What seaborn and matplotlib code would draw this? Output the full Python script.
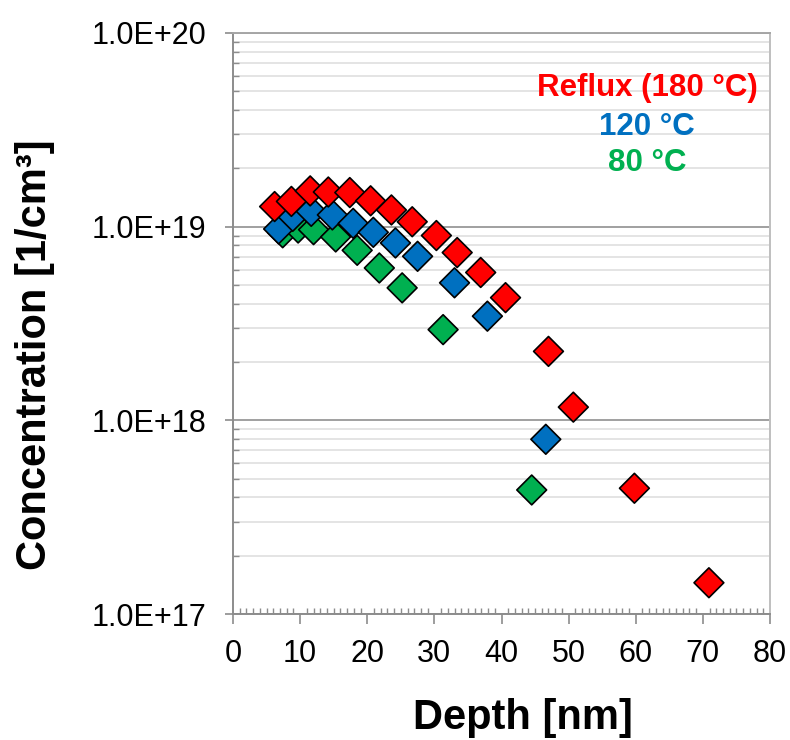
import numpy as np
import pandas as pd
import matplotlib
matplotlib.use("Agg")
import matplotlib.pyplot as plt
import matplotlib.ticker as mticker
import seaborn as sns

# ---- data ----
reflux_depth = [6.2, 8.7, 11.5, 14.2, 17.4, 20.5, 23.6, 26.7, 30.3, 33.4, 36.9, 40.6, 47.0, 50.7, 59.8, 70.9]
reflux_conc = [1.27e19, 1.35e19, 1.53e19, 1.51e19, 1.50e19, 1.36e19, 1.22e19, 1.06e19, 9.0e18, 7.35e18,
               5.8e18, 4.3e18, 2.27e18, 1.17e18, 4.46e17, 1.45e17]
t120_depth = [6.8, 8.9, 11.65, 14.8, 17.9, 20.9, 24.2, 27.5, 33.0, 37.9, 46.6]
t120_conc = [9.73e18, 1.13e19, 1.20e19, 1.15e19, 1.04e19, 9.35e18, 8.24e18, 7.03e18, 5.13e18, 3.45e18, 7.98e17]
t80_depth = [7.4, 9.7, 12.0, 15.3, 18.5, 21.8, 25.2, 31.3, 44.5]
t80_conc = [9.3e18, 9.84e18, 9.65e18, 8.85e18, 7.55e18, 6.12e18, 4.83e18, 2.94e18, 4.37e17]

series_names = ["80 °C", "120 °C", "Reflux (180 °C)"]
series_colors = ["#00B050", "#0070C0", "#FF0000"]
x_ticks = [0, 10, 20, 30, 40, 50, 60, 70, 80]
y_ticks = [1e17, 1e18, 1e19, 1e20]
y_tick_labels = ["1.0E+17", "1.0E+18", "1.0E+19", "1.0E+20"]

df = pd.DataFrame({
    "Depth": t80_depth + t120_depth + reflux_depth,
    "Conc": t80_conc + t120_conc + reflux_conc,
    "Series": [series_names[0]] * len(t80_depth) + [series_names[1]] * len(t120_depth)
              + [series_names[2]] * len(reflux_depth),
})

sns.set_theme(style="white")
plt.rcParams["font.family"] = ["Liberation Sans", "DejaVu Sans"]
plt.rcParams["text.color"] = "black"
plt.rcParams["axes.labelcolor"] = "black"

fig = plt.figure(figsize=(7.9, 7.4), dpi=100)
ax = fig.add_axes([233 / 790, 1 - 614 / 740, (770 - 233) / 790, (614 - 33) / 740])

ax.set_yscale("log")
ax.set_xlim(0, 80)
ax.set_ylim(1e17, 1e20)

# grid lines
ax.yaxis.set_minor_locator(mticker.LogLocator(base=10, subs=np.arange(2, 10)))
ax.yaxis.set_minor_formatter(mticker.NullFormatter())
ax.grid(which="minor", axis="y", color="#e2e2e2", lw=1.3, zorder=0)
ax.grid(which="major", axis="y", color="#a0a0a0", lw=1.4, zorder=0)
ax.grid(False, axis="x", which="both")
ax.set_axisbelow(True)

sns.scatterplot(data=df, x="Depth", y="Conc", hue="Series", hue_order=series_names,
                palette=series_colors, marker="D", s=230, edgecolor="black", linewidth=1.2,
                legend=False, ax=ax, zorder=3)

ax.set_xticks(x_ticks)
ax.xaxis.set_minor_locator(mticker.MultipleLocator(1))
ax.set_yticks(y_ticks)
ax.set_yticklabels(y_tick_labels)

ax.tick_params(axis="both", which="major", direction="out", length=6, width=1.2,
               color="#8c8c8c", labelsize=22, pad=11, labelcolor="black")
ax.tick_params(axis="both", which="minor", direction="in", length=4.5, width=1.0, color="#8c8c8c")
ax.tick_params(axis="x", which="major", length=7, pad=11)
ax.tick_params(axis="y", which="major", pad=13)
ax.tick_params(axis="y", which="major", left=True)
ax.tick_params(axis="x", which="major", bottom=True)
ax.tick_params(axis="y", which="minor", left=True)
ax.tick_params(axis="x", which="minor", bottom=True)

for side, col in [("left", "#8c8c8c"), ("bottom", "#8c8c8c"), ("top", "#a6a6a6"), ("right", "#bfbfbf")]:
    ax.spines[side].set_color(col)
    ax.spines[side].set_linewidth(1.4)
    ax.spines[side].set_visible(True)

ax.set_xlabel("Depth [nm]", fontsize=30, fontweight="bold", color="black", va="center")
ax.set_ylabel("Concentration [1/cm³]", fontsize=30, fontweight="bold", color="black",
              va="center", ha="center")
ax.xaxis.set_label_coords(0.539, -0.179)
ax.yaxis.set_label_coords(-0.368, 0.446)

# series labels in the upper right
label_y = [0.776, 0.838, 0.905]
for name, col, yy in zip(series_names, series_colors, label_y):
    ax.text(0.771, yy, name, transform=ax.transAxes, ha="center", va="center",
            fontsize=22.5, fontweight="bold", color=col)

fig.savefig("out.png", dpi=100)
